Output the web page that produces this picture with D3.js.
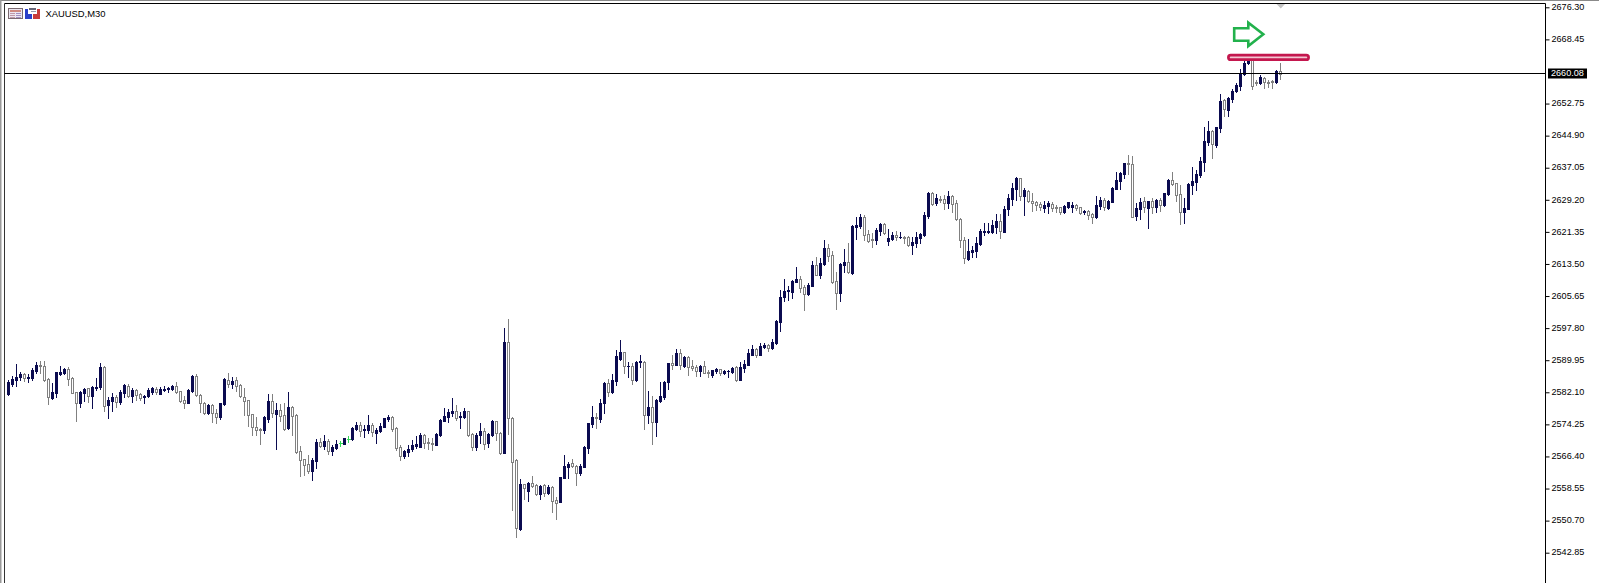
<!DOCTYPE html>
<html><head><meta charset="utf-8">
<script src="https://cdn.jsdelivr.net/npm/d3@7"></script>
<style>html,body{margin:0;padding:0;background:#fff;overflow:hidden}svg{display:block}text{font-family:"Liberation Sans",Arial,sans-serif}</style>
</head><body>
<svg id="c" width="1599" height="583"></svg>
<script>
const symbolLabel = "XAUUSD,M30";
const currentPrice = 2660.08;
const priceTicks = [2676.30,2668.45,2652.75,2644.90,2637.05,2629.20,2621.35,2613.50,2605.65,2597.80,2589.95,2582.10,2574.25,2566.40,2558.55,2550.70,2542.85];
// u = up bar, d = down bar, f = flat (open equals close)
const directions = "uuuuduuudd"+"duuuuddduu"+"duuuduuduu"+"dudduuuduu"+"uuddduuddd"+"udduududdd"+"dddduududd"+"uddddduudu"+"duufufuudu"+"uduuuudddu"
 +"uuuuddduuu"+"uuduudduud"+"uuddudddud"+"uddududduu"+"udduuuuduu"+"duuududuud"+"uduuuududu"+"dddudduudu"+"uuduuuuduu"+"duuuuuuudd"
 +"uuduuddduu"+"duuuddduud"+"uududduuuu"+"ududdudddd"+"uuuuuuuudu"+"uuududdddu"+"uddduuuddu"+"dduuduuuuu"+"dduudududu"+"uddduuuuuu"
 +"uduuduuuuu"+"uddudddud";
const bodyTops = [
2584.61,2585.34,2585.91,2586.57,2586.57,2585.91,2587.55,2588.77,2588.77,2588.52,
2585.42,2582.16,2587.06,2587.06,2587.79,2587.79,2585.59,2582.16,2582.16,2582.98,
2583.06,2583.47,2583.38,2588.28,2588.36,2580.20,2580.94,2580.94,2582.24,2583.87,
2583.71,2582.65,2582.73,2581.67,2581.26,2582.65,2583.14,2582.81,2582.89,2582.98,
2583.14,2583.63,2583.63,2582.32,2580.12,2582.65,2586.16,2586.16,2581.51,2579.55,
2578.90,2578.90,2577.02,2579.39,2585.42,2585.10,2584.85,2585.10,2583.87,2580.85,
2580.12,2576.70,2573.51,2573.11,2576.13,2579.96,2579.96,2577.76,2577.76,2576.53,
2578.49,2578.57,2576.53,2567.72,2565.68,2564.54,2565.52,2570.01,2569.92,2570.17,
2570.25,2568.70,2569.43,2569.60,2570.82,2570.74,2573.35,2574.17,2574.09,2573.02,
2574.09,2574.17,2572.86,2573.92,2575.72,2576.13,2576.13,2573.35,2568.62,2567.72,
2568.29,2569.27,2569.35,2571.64,2571.64,2569.84,2569.76,2571.88,2575.31,2576.29,
2577.27,2577.43,2577.43,2576.29,2577.43,2577.43,2571.80,2571.72,2572.62,2572.62,
2571.88,2575.07,2574.98,2572.21,2594.40,2594.32,2575.79,2565.51,2559.64,2559.56,
2559.96,2559.80,2559.39,2559.23,2559.39,2558.98,2558.90,2555.72,2561.35,2564.04,
2564.61,2564.70,2564.04,2564.04,2568.78,2574.49,2576.04,2576.04,2579.47,2584.44,
2584.44,2585.10,2590.97,2591.95,2591.87,2588.60,2588.52,2589.58,2589.75,2589.50,
2578.49,2578.49,2580.28,2581.18,2584.69,2589.18,2589.26,2591.62,2591.62,2590.81,
2590.81,2588.60,2588.20,2588.52,2588.52,2587.14,2587.46,2587.79,2587.71,2587.38,
2587.38,2588.03,2588.20,2588.35,2589.08,2591.61,2592.67,2592.67,2593.41,2593.65,
2593.65,2594.31,2599.61,2605.40,2606.96,2607.12,2609.32,2609.81,2609.81,2607.85,
2608.34,2613.24,2613.24,2613.65,2617.40,2617.40,2615.69,2609.24,2613.48,2613.97,
2613.97,2622.87,2623.03,2625.07,2625.07,2620.75,2619.52,2621.81,2623.28,2623.28,
2619.85,2620.58,2620.50,2620.17,2620.17,2620.17,2618.87,2620.01,2620.83,2625.47,
2630.85,2630.94,2629.71,2629.47,2629.30,2630.12,2630.12,2628.32,2624.49,2619.35,
2616.66,2616.90,2618.53,2621.63,2621.55,2621.55,2623.02,2624.00,2624.00,2626.86,
2629.63,2632.08,2634.44,2634.44,2631.51,2631.42,2628.98,2628.65,2628.08,2628.00,
2628.32,2628.24,2627.51,2627.34,2627.67,2628.57,2628.00,2627.92,2627.34,2626.45,
2626.45,2625.71,2627.92,2629.14,2629.14,2628.98,2632.16,2634.04,2635.75,2638.12,
2638.20,2638.03,2627.09,2628.72,2628.80,2628.80,2628.80,2629.13,2629.13,2630.76,
2634.03,2633.94,2633.21,2630.52,2627.09,2633.05,2633.78,2635.49,2638.60,2643.57,
2646.02,2646.02,2646.92,2653.37,2653.61,2654.02,2655.89,2657.36,2659.97,2662.75,
2663.40,2663.40,2658.02,2659.16,2658.91,2658.02,2658.26,2660.71,2660.71];
const bodyBottoms = [
2581.67,2584.12,2585.10,2585.83,2585.59,2585.67,2585.59,2587.30,2588.52,2585.10,
2580.94,2580.69,2581.92,2586.57,2586.81,2585.42,2582.00,2579.55,2579.47,2582.00,
2581.18,2581.18,2583.14,2583.30,2578.73,2578.98,2579.88,2579.71,2579.71,2581.92,
2581.18,2581.18,2581.43,2580.77,2580.85,2581.18,2582.24,2582.08,2581.75,2582.73,
2582.81,2582.89,2582.24,2580.04,2579.55,2579.55,2582.49,2581.43,2579.55,2577.10,
2576.94,2576.94,2576.12,2575.96,2579.22,2584.12,2584.12,2583.71,2581.10,2580.04,
2576.53,2573.51,2572.86,2572.94,2572.86,2575.47,2577.11,2576.78,2576.37,2573.19,
2573.35,2576.37,2567.39,2565.44,2564.38,2562.91,2562.91,2565.27,2568.95,2568.86,
2567.72,2567.80,2568.37,2569.60,2569.52,2570.74,2570.58,2573.11,2572.70,2572.78,
2572.86,2572.29,2572.21,2572.54,2573.60,2575.55,2573.11,2568.46,2566.58,2566.42,
2567.56,2568.13,2568.95,2568.78,2569.76,2569.60,2569.52,2569.27,2571.72,2575.15,
2576.05,2577.11,2575.88,2576.13,2576.13,2571.72,2568.70,2568.70,2571.56,2569.43,
2569.60,2571.72,2572.05,2567.31,2567.15,2575.71,2565.10,2548.95,2548.54,2558.74,
2558.00,2559.23,2557.19,2557.19,2557.43,2557.35,2555.56,2555.07,2555.31,2561.19,
2563.88,2564.04,2562.41,2562.25,2563.88,2568.53,2574.32,2575.79,2575.55,2579.47,
2582.24,2582.08,2584.93,2590.32,2588.52,2588.44,2585.10,2585.10,2589.42,2576.53,
2576.53,2574.90,2574.90,2579.87,2580.93,2584.61,2588.85,2588.85,2588.77,2588.52,
2588.28,2588.03,2587.30,2587.30,2586.89,2586.89,2586.24,2587.22,2586.81,2586.89,
2587.22,2587.05,2585.01,2585.09,2587.94,2588.76,2591.21,2591.21,2591.21,2593.25,
2592.84,2592.84,2594.06,2599.37,2605.32,2606.79,2606.63,2609.16,2607.69,2606.14,
2606.06,2608.10,2610.87,2610.71,2613.48,2615.52,2609.08,2606.47,2606.47,2613.24,
2611.44,2611.36,2622.62,2622.79,2620.66,2619.19,2619.28,2619.36,2621.56,2620.99,
2619.19,2619.68,2620.01,2620.01,2619.93,2618.13,2618.22,2618.71,2619.85,2620.57,
2625.31,2628.16,2628.49,2629.14,2628.49,2628.49,2628.24,2624.41,2619.27,2614.94,
2614.78,2616.49,2616.74,2618.37,2621.39,2621.39,2621.22,2622.45,2621.55,2621.39,
2626.86,2629.38,2631.83,2630.20,2630.12,2628.90,2628.49,2628.00,2627.34,2627.18,
2627.75,2627.18,2627.34,2626.28,2626.20,2627.34,2627.34,2627.18,2625.96,2626.12,
2625.55,2625.06,2624.90,2627.75,2627.34,2627.10,2628.73,2631.91,2633.79,2635.51,
2637.87,2625.06,2625.30,2626.93,2627.33,2627.25,2627.50,2627.50,2627.99,2627.82,
2630.60,2633.05,2630.27,2626.27,2626.27,2626.93,2632.80,2633.54,2635.33,2638.43,
2643.41,2642.84,2642.59,2646.67,2651.33,2651.24,2653.85,2655.81,2657.12,2659.97,
2662.59,2657.04,2657.85,2657.85,2658.10,2657.93,2658.10,2657.93,2660.08];
const highs = [
2585.10,2586.08,2589.01,2587.14,2586.81,2586.49,2587.95,2589.50,2589.75,2589.75,
2585.59,2584.28,2587.14,2588.52,2587.95,2588.20,2585.75,2582.16,2582.40,2583.22,
2583.22,2583.63,2585.67,2589.26,2588.52,2580.85,2582.00,2581.43,2582.65,2584.20,
2584.12,2583.06,2582.98,2582.00,2581.43,2583.06,2583.38,2583.47,2583.38,2583.63,
2583.47,2583.87,2584.53,2582.49,2581.18,2582.89,2586.32,2586.49,2581.67,2579.71,
2579.14,2579.22,2577.92,2579.55,2585.59,2586.73,2585.91,2585.75,2584.04,2583.06,
2580.20,2576.86,2576.13,2573.27,2576.29,2581.67,2581.67,2579.39,2579.23,2579.39,
2582.16,2578.74,2576.70,2568.95,2565.84,2566.74,2565.93,2570.66,2570.82,2571.56,
2570.58,2569.19,2570.33,2570.17,2570.82,2571.39,2573.51,2574.74,2574.74,2574.09,
2576.53,2574.49,2573.27,2574.49,2575.88,2576.45,2576.29,2573.51,2569.19,2567.97,
2569.19,2570.41,2571.39,2572.05,2571.88,2570.82,2570.90,2572.21,2575.47,2578.33,
2577.92,2580.70,2578.90,2577.19,2578.17,2577.60,2572.05,2572.05,2574.49,2573.27,
2572.05,2575.23,2575.15,2572.45,2597.83,2600.03,2575.96,2565.67,2560.78,2559.72,
2560.21,2561.60,2559.56,2559.39,2559.56,2559.39,2559.07,2556.54,2561.43,2566.74,
2565.10,2565.67,2564.21,2564.53,2568.94,2574.65,2578.73,2576.94,2580.44,2584.69,
2585.26,2586.56,2592.44,2594.89,2592.03,2589.50,2589.18,2589.75,2591.13,2589.67,
2582.40,2581.10,2580.44,2584.61,2584.85,2589.34,2591.22,2592.60,2592.60,2590.97,
2590.97,2589.91,2588.69,2588.77,2589.75,2587.54,2587.63,2588.03,2587.87,2587.54,
2587.54,2588.36,2588.61,2589.41,2589.98,2592.59,2593.57,2592.84,2594.06,2594.06,
2593.90,2595.04,2599.77,2607.12,2609.73,2608.10,2609.57,2612.75,2610.63,2608.26,
2608.75,2614.22,2615.11,2614.87,2619.28,2618.38,2616.67,2611.44,2613.65,2617.15,
2618.70,2623.03,2624.91,2625.72,2625.48,2621.81,2620.99,2622.21,2623.44,2623.44,
2622.05,2621.32,2621.48,2621.32,2620.34,2620.34,2620.17,2621.32,2620.99,2626.20,
2631.02,2631.10,2630.61,2630.12,2630.36,2631.34,2630.28,2629.14,2624.65,2620.00,
2619.59,2617.88,2620.00,2621.96,2623.43,2623.59,2624.24,2625.71,2625.71,2627.67,
2630.53,2633.22,2634.69,2634.61,2632.00,2631.59,2630.77,2628.90,2628.73,2628.81,
2628.90,2628.73,2627.92,2627.51,2627.83,2628.73,2628.65,2628.16,2627.51,2626.69,
2626.69,2626.04,2630.12,2629.96,2629.71,2629.14,2632.24,2636.08,2636.08,2638.28,
2640.16,2639.91,2628.31,2629.54,2629.95,2628.97,2629.54,2629.29,2629.54,2630.93,
2634.19,2635.90,2633.37,2632.80,2629.54,2633.21,2637.29,2636.47,2639.57,2647.08,
2648.47,2646.27,2646.92,2655.00,2653.85,2654.26,2656.22,2657.69,2661.12,2664.05,
2663.81,2663.81,2658.51,2659.73,2659.16,2658.51,2658.51,2660.95,2662.59];
const lows = [
2581.43,2583.71,2583.71,2585.10,2584.85,2584.69,2585.10,2586.89,2586.73,2584.77,
2579.22,2580.53,2581.02,2586.32,2586.49,2583.87,2581.83,2575.06,2578.57,2579.88,
2579.79,2578.24,2582.65,2582.98,2577.59,2575.88,2577.51,2578.57,2579.22,2580.85,
2580.85,2579.71,2580.20,2580.20,2579.55,2580.85,2581.67,2581.67,2581.59,2582.32,
2582.08,2582.65,2581.83,2579.79,2578.33,2579.39,2582.24,2581.18,2577.35,2576.77,
2576.77,2574.90,2574.49,2575.63,2578.98,2583.47,2583.06,2582.49,2580.94,2576.53,
2573.84,2571.64,2571.64,2569.43,2572.21,2574.90,2576.13,2568.21,2575.15,2572.86,
2573.19,2571.64,2567.15,2561.60,2561.85,2562.42,2560.62,2563.64,2568.62,2568.29,
2566.99,2566.66,2568.13,2568.95,2569.52,2569.92,2570.41,2572.86,2571.47,2571.23,
2572.05,2571.47,2569.76,2572.29,2573.51,2575.15,2572.70,2567.97,2565.52,2565.93,
2566.50,2567.80,2568.54,2568.62,2568.37,2568.13,2567.97,2569.11,2571.47,2575.15,
2574.90,2576.37,2575.31,2573.43,2575.88,2571.47,2567.97,2567.97,2569.76,2568.13,
2568.78,2571.39,2570.41,2566.99,2567.15,2571.80,2553.27,2546.75,2548.38,2555.88,
2555.56,2558.98,2556.94,2555.96,2556.70,2557.19,2552.86,2551.15,2555.23,2561.02,
2561.19,2563.88,2559.39,2561.84,2563.72,2567.23,2573.51,2573.26,2574.73,2577.10,
2581.18,2581.83,2583.95,2590.00,2586.89,2585.75,2584.20,2584.93,2588.36,2573.10,
2574.65,2569.43,2571.39,2579.71,2580.44,2582.97,2587.71,2588.69,2587.87,2588.36,
2586.32,2587.54,2586.08,2586.08,2586.73,2585.75,2585.75,2586.89,2586.24,2586.65,
2585.83,2586.73,2584.77,2585.09,2587.04,2588.76,2591.12,2590.80,2591.12,2592.84,
2592.27,2592.67,2593.98,2597.16,2604.51,2604.67,2605.24,2609.08,2606.71,2602.22,
2605.89,2608.10,2610.71,2610.14,2613.24,2614.30,2608.91,2602.39,2604.51,2611.61,
2611.20,2611.03,2619.60,2622.38,2619.36,2618.95,2617.73,2618.38,2620.58,2620.83,
2618.13,2619.36,2619.36,2619.85,2618.71,2617.97,2615.93,2617.73,2618.71,2620.33,
2624.65,2627.92,2627.92,2628.73,2626.86,2627.10,2626.20,2624.24,2617.55,2613.64,
2614.45,2615.10,2615.27,2618.21,2620.65,2620.98,2620.98,2620.98,2619.92,2621.31,
2625.55,2627.92,2629.14,2629.14,2625.47,2628.73,2626.53,2626.69,2626.69,2626.12,
2625.88,2626.53,2626.28,2625.63,2625.88,2627.10,2626.28,2626.69,2625.71,2625.71,
2624.57,2623.59,2624.73,2626.86,2626.69,2626.94,2628.65,2631.75,2631.75,2634.53,
2635.51,2624.90,2624.23,2624.48,2626.11,2622.36,2625.87,2626.11,2626.52,2627.66,
2630.44,2632.80,2628.89,2623.26,2623.42,2626.84,2630.60,2631.58,2634.84,2636.31,
2642.59,2639.49,2642.19,2645.86,2649.69,2649.78,2653.20,2655.65,2656.06,2659.81,
2662.42,2656.30,2657.28,2657.45,2656.55,2656.87,2656.47,2657.69,2658.83];

const svg = d3.select("#c");
const axisX = 1545.5, plotTop = 3.5, plotLeft = 4.5;
const y = d3.scaleLinear().domain([2676.30,2542.85]).range([7.3,552.7]);
const x = d3.scaleLinear().domain([0,318]).range([8.5,8.5+4*318]);
const ry = v => Math.round(y(v));
const NAVY = "#0b0b50", GRAY = "#808080", GREEN = "#33d957";

// window frame
svg.append("rect").attr("x",0).attr("y",0).attr("width",1599).attr("height",1).attr("fill","#8a8a8a");
svg.append("rect").attr("x",0).attr("y",0).attr("width",1.5).attr("height",583).attr("fill","#9a9a9a");
svg.append("line").attr("x1",plotLeft).attr("x2",axisX).attr("y1",plotTop).attr("y2",plotTop).attr("stroke","#000");
svg.append("line").attr("x1",plotLeft).attr("x2",plotLeft).attr("y1",plotTop).attr("y2",583).attr("stroke","#333");

// candles
const idx = d3.range(highs.length);
const colour = i => directions[i]==="u"?NAVY:directions[i]==="d"?GRAY:GREEN;
const g = svg.append("g").attr("shape-rendering","crispEdges");
g.selectAll("line.w").data(idx).join("line").attr("class","w")
  .attr("x1",i=>x(i)).attr("x2",i=>x(i))
  .attr("y1",i=>ry(highs[i])).attr("y2",i=>ry(lows[i])+1)
  .attr("stroke",colour);
g.selectAll("rect.b").data(idx.filter(i=>directions[i]==="u")).join("rect").attr("class","b")
  .attr("x",i=>x(i)-1.5).attr("width",3)
  .attr("y",i=>ry(bodyTops[i])).attr("height",i=>Math.max(1,ry(bodyBottoms[i])-ry(bodyTops[i])+1))
  .attr("fill",NAVY);
g.selectAll("rect.d").data(idx.filter(i=>directions[i]==="d")).join("rect").attr("class","d")
  .attr("x",i=>x(i)-1).attr("width",2)
  .attr("y",i=>ry(bodyTops[i])+.5).attr("height",i=>Math.max(1,ry(bodyBottoms[i])-ry(bodyTops[i])))
  .attr("fill","#fff").attr("stroke",GRAY);
g.selectAll("line.f").data(idx.filter(i=>directions[i]==="f")).join("line").attr("class","f")
  .attr("x1",i=>x(i)-2).attr("x2",i=>x(i)+2)
  .attr("y1",i=>ry(bodyTops[i])+.5).attr("y2",i=>ry(bodyTops[i])+.5)
  .attr("stroke",GREEN);

// current price line
const cy = Math.floor(y(currentPrice))+.5;
svg.append("line").attr("x1",plotLeft).attr("x2",axisX).attr("y1",cy).attr("y2",cy).attr("stroke","#000").attr("stroke-width",1.2);

// axis
const axis = d3.axisRight(y).tickValues(priceTicks).tickFormat(d3.format(".2f")).tickSize(4).tickPadding(2);
const ga = svg.append("g").attr("transform",`translate(${axisX},0)`).call(axis);
ga.select(".domain").remove();
ga.selectAll("line").attr("stroke","#000");
ga.selectAll("text").attr("font-size",9.1).attr("fill","#000").attr("dy","0.25em");
svg.append("line").attr("x1",axisX).attr("x2",axisX).attr("y1",plotTop).attr("y2",583).attr("stroke","#000");

// current price tag
svg.append("rect").attr("x",1548).attr("y",cy-5).attr("width",39).attr("height",10).attr("fill","#000");
svg.append("text").attr("x",1551).attr("y",cy+2.8).attr("font-size",9.1).attr("fill","#fff").text(d3.format(".2f")(currentPrice));

// shift marker
svg.append("path").attr("d","M1276.5,4 L1285,4 L1280.8,8.5 Z").attr("fill","#c4c4c4");

// hand drawn annotations
svg.append("rect").attr("x",1228.4).attr("y",55.1).attr("width",80.2).attr("height",4.6).attr("rx",2.3)
  .attr("fill","#f3c6d2").attr("stroke","#c4174e").attr("stroke-width",2.7);
svg.append("path").attr("d","M1234.2,28.3 L1248.3,28.3 L1248.3,22.7 L1263.3,34.3 L1248.3,46 L1248.3,40.7 L1234.2,40.7 Z")
  .attr("fill","none").attr("stroke","#22b14c").attr("stroke-width",2.6);

// title icons
const ic = svg.append("g").attr("shape-rendering","crispEdges");
ic.append("rect").attr("x",8.5).attr("y",8.5).attr("width",14).attr("height",10).attr("fill","#ece6f0").attr("stroke","#7a6a70");
ic.append("rect").attr("x",10).attr("y",10).attr("width",11).attr("height",2).attr("fill","#cf8a80");
[12.5,14.5,16.5].forEach(v=>ic.append("rect").attr("x",10).attr("y",v).attr("width",5).attr("height",1).attr("fill","#c09aa8"));
[12.5,14.5,16.5].forEach(v=>ic.append("rect").attr("x",16).attr("y",v).attr("width",5).attr("height",1).attr("fill","#a08fc0"));
ic.append("path").attr("d","M25,9 h3 v5 h4 v5 h-7 Z").attr("fill","#2a3fc8");
ic.append("path").attr("d","M37,9 h3 v10 h-7 v-5 h4 Z").attr("fill","#c83a3a");
ic.append("rect").attr("x",29).attr("y",8).attr("width",7).attr("height",1.5).attr("fill","#667");
ic.append("rect").attr("x",31).attr("y",11).attr("width",5).attr("height",1).attr("fill","#99a");
svg.append("text").attr("x",45.5).attr("y",16.5).attr("font-size",9.4).attr("fill","#000").text(symbolLabel);
</script>
</body></html>
